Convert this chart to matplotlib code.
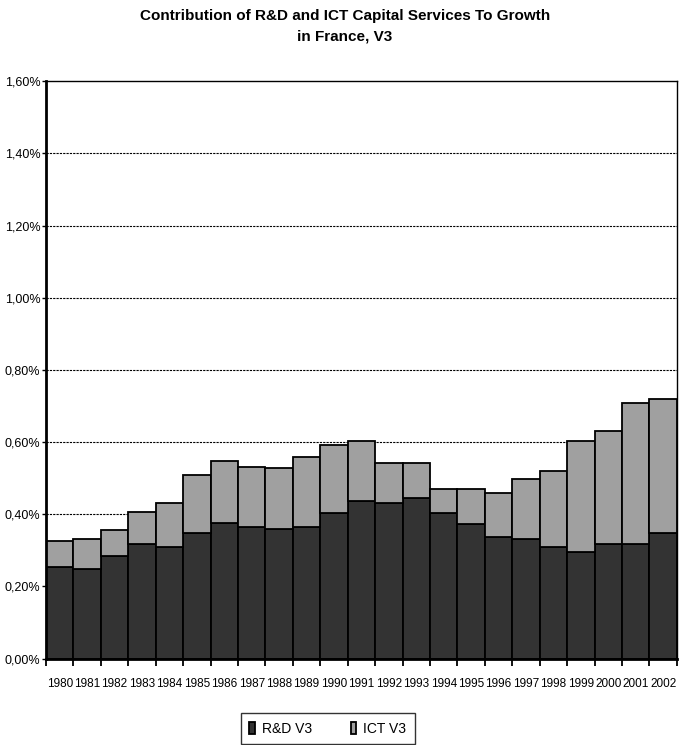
import numpy as np
import matplotlib.pyplot as plt
from matplotlib.ticker import FuncFormatter, FixedLocator

plt.rcParams['font.family'] = ['Liberation Sans Narrow', 'Liberation Sans', 'DejaVu Sans']

years = [str(y) for y in range(1980, 2003)]
rd_v3 = [0.254, 0.249, 0.283, 0.317, 0.310, 0.349, 0.377, 0.366, 0.360, 0.366, 0.404, 0.437,
         0.432, 0.444, 0.404, 0.372, 0.338, 0.332, 0.310, 0.294, 0.317, 0.317, 0.349]
total_v3 = [0.326, 0.332, 0.356, 0.405, 0.432, 0.509, 0.548, 0.531, 0.527, 0.559, 0.592, 0.603,
            0.542, 0.542, 0.470, 0.470, 0.460, 0.498, 0.521, 0.602, 0.631, 0.708, 0.718]
ict_v3 = [t - r for t, r in zip(total_v3, rd_v3)]

x = np.arange(len(years))

fig = plt.figure(figsize=(6.9, 7.45), dpi=100)
ax = fig.add_axes([0.0667, 0.116, 0.9143, 0.775])

# dashed gridlines sit behind the bars
for yv in [0.2, 0.4, 0.6, 0.8, 1.0, 1.2, 1.4]:
    ax.axhline(yv, color='black', lw=0.8, ls=(0, (2, 1)), zorder=1)

ax.bar(x, rd_v3, width=1.0, color='#333333', edgecolor='black', lw=1.3,
       label='R&D V3', zorder=2)
ax.bar(x, ict_v3, bottom=rd_v3, width=1.0, color='#a0a0a0', edgecolor='black', lw=1.3,
       label='ICT V3', zorder=2)

ax.set_xlim(-0.5, len(years) - 0.5)
ax.set_ylim(0, 1.6)
ax.set_yticks(np.arange(0, 1.61, 0.2))
ax.yaxis.set_major_formatter(FuncFormatter(lambda v, p: f'{v:.2f}%'.replace('.', ',')))
ax.tick_params(axis='y', direction='out', length=3, width=1, pad=1, labelsize=9)

ax.set_xticks(x)
ax.set_xticklabels(years)
ax.tick_params(axis='x', which='major', length=0, pad=14, labelsize=8.5)
ax.xaxis.set_minor_locator(FixedLocator(np.arange(-0.5, len(years), 1.0)))
ax.tick_params(axis='x', which='minor', direction='out', length=5, width=1.3)

ax.spines['left'].set_linewidth(2)
ax.spines['bottom'].set_linewidth(2)
ax.spines['top'].set_linewidth(1)
ax.spines['right'].set_linewidth(1)

fig.text(0.5, 0.988, 'Contribution of R&D and ICT Capital Services To Growth\nin France, V3',
         ha='center', va='top', fontsize=11, fontweight='bold', linespacing=1.6)

leg = fig.legend(loc='center', bbox_to_anchor=(0.475, 0.022), ncol=2, frameon=True,
                 fancybox=False, edgecolor='black', fontsize=10, handlelength=0.4,
                 handleheight=0.9, columnspacing=2.8, handletextpad=0.5,
                 borderpad=0.6)
leg.get_frame().set_linewidth(1)

fig.savefig('out.png', dpi=100)
